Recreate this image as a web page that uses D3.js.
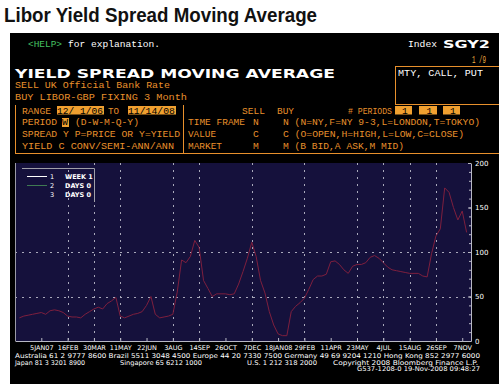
<!DOCTYPE html>
<html>
<head>
<meta charset="utf-8">
<script src="https://cdn.jsdelivr.net/npm/d3@7"></script>
<style>
  body { margin: 0; background: #fff; }
  svg { display: block; }
  .term { font-family: "Liberation Mono", "DejaVu Sans Mono", monospace; font-size: 9.6px; }
  .small { font-family: "DejaVu Sans", sans-serif; font-size: 6.5px; fill: #fff; }
</style>
</head>
<body>
<svg id="chart"></svg>
<script>
// weekly spread (bp), 3M GBP Libor fixing minus UK Bank Rate, 1 Dec 2006 .. 14 Nov 2008
const firstWeek = "2006-12-01";
const spread = [
  26, 28, 29, 30, 31, 32, 30, 34, 35, 34,
  32, 28, 27, 27, 26, 30, 33, 36, 38, 36,
  42, 45, 49, 28, 26, 28, 30, 31, 33, 40,
  50, 30, 26, 27, 28, 30, 55, 91, 88, 95,
  113, 105, 68, 59, 50, 53, 53, 53, 52, 53,
  64, 78, 93, 111, 95, 68, 54, 33, 18, 8,
  6, 6, 33, 39, 43, 48, 58, 69, 73, 73,
  75, 89, 90, 86, 80, 76, 84, 86, 86, 88,
  94, 96, 93, 88, 83, 80, 79, 78, 77, 76,
  76, 76, 73, 72, 98, 118, 126, 172, 167, 150,
  136, 146, 122
];
const tickDates = [
  "2007-01-05", "2007-02-16", "2007-03-30", "2007-05-11", "2007-06-22", "2007-08-03",
  "2007-09-14", "2007-10-26", "2007-12-07", "2008-01-18", "2008-02-29", "2008-04-11",
  "2008-05-23", "2008-07-04", "2008-08-15", "2008-09-26", "2008-11-07"
];
const tickLabels = [
  "5JAN07", "16FEB", "30MAR", "11MAY", "22JUN", "3AUG", "14SEP", "26OCT", "7DEC",
  "18JAN08", "29FEB", "11APR", "23MAY", "4JUL", "15AUG", "26SEP", "7NOV"
];
const gridDates = [
  "2007-02-16", "2007-03-30", "2007-05-11", "2007-08-03", "2007-09-14", "2007-12-07",
  "2008-02-29", "2008-05-23", "2008-07-04", "2008-08-15", "2008-09-26"
];
const yTicks = [0, 50, 100, 150, 200];
const yGrid = [50, 100];
const xDomain = ["2006-11-24", "2008-11-21"];
const legendItems = [
  { key: "1", label: "WEEK 1", color: "#ffffff" },
  { key: "2", label: "DAYS 0", color: "#3f7a52" },
  { key: "3", label: "DAYS 0", color: null }
];

const W = 499, H = 388;
const orange = "#e8902c", hi = "#f0a030";
const parse = d3.timeParse("%Y-%m-%d");
const svg = d3.select("#chart").attr("width", W).attr("height", H);

svg.append("text")
  .attr("x", 4).attr("y", 22)
  .attr("textLength", 313).attr("lengthAdjust", "spacingAndGlyphs")
  .style("font-family", "Liberation Sans, Arial, sans-serif")
  .style("font-weight", "bold").style("font-size", "21px").style("fill", "#111")
  .text("Libor Yield Spread Moving Average");

// terminal panel
svg.append("rect").attr("x", 10).attr("y", 33).attr("width", 489).attr("height", 351).attr("fill", "#000");

function term(x, y, str, color, opts) {
  opts = opts || {};
  const t = svg.append("text").attr("class", "term").attr("x", x).attr("y", y)
    .style("fill", color).text(str);
  if (opts.len) t.attr("textLength", opts.len).attr("lengthAdjust", "spacingAndGlyphs");
  if (opts.style) Object.entries(opts.style).forEach(([k, v]) => t.style(k, v));
  return t;
}
function box(x, y, w, h, color) {
  svg.append("rect").attr("x", x).attr("y", y).attr("width", w).attr("height", h).attr("fill", color);
}
function hline(x1, x2, y) {
  svg.append("line").attr("x1", x1).attr("x2", x2).attr("y1", y).attr("y2", y)
    .attr("stroke", orange).attr("stroke-width", 1);
}
function vline(x, y1, y2) {
  svg.append("line").attr("x1", x).attr("x2", x).attr("y1", y1).attr("y2", y2)
    .attr("stroke", orange).attr("stroke-width", 1);
}

term(28, 47, "<HELP>", "#45c060", { len: 34 });
term(68, 47, "for explanation.", "#fff", { len: 92 });
term(408, 47, "Index", "#fff", { len: 29 });
svg.append("text").attr("x", 443).attr("y", 47.5)
  .attr("textLength", 47).attr("lengthAdjust", "spacingAndGlyphs")
  .style("font-family", "DejaVu Sans, sans-serif").style("font-weight", "bold")
  .style("font-size", "11px").style("fill", "#fff").text("SGY2");
term(472, 63, "1 /9", "#f0b040", { len: 14, style: { "font-size": "10.5px" } });

svg.append("text").attr("x", 15).attr("y", 77.5)
  .attr("textLength", 320).attr("lengthAdjust", "spacingAndGlyphs")
  .style("font-family", "DejaVu Sans, sans-serif").style("font-weight", "bold")
  .style("font-size", "12.5px").style("fill", "#fff").text("YIELD SPREAD MOVING AVERAGE");

// MTY box
hline(395, 499, 66.5); vline(395.5, 66, 104); hline(395, 499, 104.5);
term(398, 76, "MTY, CALL, PUT", "#fff", { len: 85 });

term(15, 88, "SELL UK Official Bank Rate", orange, { len: 155 });
term(15, 100, "BUY  LIBOR-GBP FIXING 3 Month", orange, { len: 172 });

// main settings box
vline(15.5, 105, 153); vline(183.5, 105, 153); hline(15, 499, 153.5);

box(57, 106, 47, 8.5, hi); box(128, 106, 48, 8.5, hi); box(62, 118, 7, 9, hi);
term(22, 113.5, "RANGE", orange, { len: 29 });
term(57, 113.5, "12/ 1/06", "#000", { len: 46 });
term(108, 113.5, "TO", orange, { len: 11 });
term(128, 113.5, "11/14/08", "#000", { len: 47 });
term(22, 125, "PERIOD", orange, { len: 35 });
term(62, 125, "W", "#000", { len: 6 });
term(75, 125, "(D-W-M-Q-Y)", orange, { len: 64 });
term(22, 137, "SPREAD Y P=PRICE OR Y=YIELD", orange, { len: 158 });
term(22, 149, "YIELD  C CONV/SEMI-ANN/ANN", orange, { len: 152 });

term(242, 113.5, "SELL", orange, { len: 23 });
term(277, 113.5, "BUY", orange, { len: 17 });
term(348, 113.5, "# PERIODS", orange, { len: 44 });
[[395, 17], [419, 18], [443, 17]].forEach(([bx, bw]) => {
  box(bx, 106, bw, 8.5, hi);
  term(bx + bw / 2 - 1.5, 113.5, "1", "#000");
});
term(188, 125, "TIME FRAME", orange, { len: 57 });
term(253, 125, "N", orange);
term(283, 125, "N (N=NY,F=NY 9-3,L=LONDON,T=TOKYO)", orange, { len: 197 });
term(188, 137, "VALUE", orange, { len: 28 });
term(253, 137, "C", orange);
term(283, 137, "C (O=OPEN,H=HIGH,L=LOW,C=CLOSE)", orange, { len: 181 });
term(188, 149, "MARKET", orange, { len: 34 });
term(253, 149, "M", orange);
term(283, 149, "M (B BID,A ASK,M MID)", orange, { len: 121 });

// plot
const plot = { left: 15, right: 471, top: 163, bottom: 341 };
const x = d3.scaleTime().domain(xDomain.map(parse)).range([plot.left, plot.right]);
const y = d3.scaleLinear().domain([0, 200]).range([plot.bottom, plot.top]);

svg.append("rect").attr("x", plot.left).attr("y", plot.top)
  .attr("width", plot.right - plot.left).attr("height", plot.bottom - plot.top)
  .attr("fill", "#15113c");

const grid = svg.append("g").attr("stroke", "#a9a9bb").attr("stroke-width", 1);
grid.selectAll(".vg").data(gridDates.map(parse)).enter().append("line")
  .attr("x1", d => Math.round(x(d)) + 0.5).attr("x2", d => Math.round(x(d)) + 0.5)
  .attr("y1", plot.top).attr("y2", plot.bottom)
  .attr("stroke-dasharray", "2,5");
grid.selectAll(".hg").data(yGrid).enter().append("line")
  .attr("x1", plot.left).attr("x2", plot.right)
  .attr("y1", d => Math.round(y(d)) + 0.5).attr("y2", d => Math.round(y(d)) + 0.5)
  .attr("stroke-dasharray", "2,5");

// left border
svg.append("line").attr("x1", plot.left + 0.5).attr("x2", plot.left + 0.5)
  .attr("y1", plot.top).attr("y2", plot.bottom).attr("stroke", "#9a9aa6");

const weeks = spread.map((v, i) => ({ date: d3.timeDay.offset(parse(firstWeek), 7 * i), v }));
svg.append("path").datum(weeks)
  .attr("d", d3.line().x(d => x(d.date)).y(d => y(d.v)))
  .attr("fill", "none").attr("stroke", "#7e1f3e").attr("stroke-width", 1);

// axes
const xAxis = svg.append("g").attr("transform", `translate(0,${plot.bottom})`)
  .call(d3.axisBottom(x).tickValues(tickDates.map(parse))
    .tickFormat((d, i) => tickLabels[i]).tickSize(-3).tickSizeOuter(0).tickPadding(3));
xAxis.select(".domain").attr("stroke", "#b8b8c4");
xAxis.selectAll(".tick line").attr("stroke", "#b8b8c4");
xAxis.selectAll("text").attr("class", "small").attr("fill", "#fff")
  .style("font-size", "6.5px").attr("dy", "0.9em");

const yAxis = svg.append("g").attr("transform", `translate(${plot.right},0)`)
  .call(d3.axisRight(y).tickValues(yTicks).tickSize(-3).tickSizeOuter(0).tickPadding(4));
yAxis.select(".domain").attr("stroke", "#b8b8c4");
yAxis.selectAll(".tick line").attr("stroke", "#b8b8c4");
yAxis.selectAll("text").attr("class", "small").attr("fill", "#fff").style("font-size", "7px");

const yMinor = svg.append("g").attr("transform", `translate(${plot.right},0)`)
  .call(d3.axisRight(y).ticks(20).tickSize(-2).tickFormat(""));
yMinor.select(".domain").remove();
yMinor.selectAll(".tick line").attr("stroke", "#b8b8c4");

// legend
const lg = svg.append("g");
lg.append("path").attr("d", "M22,168.5H94.5V202").attr("fill", "none").attr("stroke", "#a0a0a8");
legendItems.forEach((it, i) => {
  const ly = 176 + i * 9;
  if (it.color) {
    lg.append("line").attr("x1", 27).attr("x2", 47).attr("y1", ly + 0.5).attr("y2", ly + 0.5)
      .attr("stroke", it.color).attr("stroke-width", 1);
  }
  lg.append("text").attr("class", "small").attr("x", 50).attr("y", ly + 2.5).text(it.key);
  lg.append("text").attr("class", "small").attr("x", 65).attr("y", ly + 2.5)
    .style("font-weight", "bold").text(it.label);
});

// footer
const foot = (xx, yy, str, len) => svg.append("text").attr("class", "small")
  .attr("x", xx).attr("y", yy).attr("textLength", len).attr("lengthAdjust", "spacingAndGlyphs").text(str);
foot(15, 358, "Australia 61 2 9777 8600 Brazil 5511 3048 4500 Europe 44 20 7330 7500 Germany 49 69 9204 1210 Hong Kong 852 2977 6000", 465);
foot(15, 364.5, "Japan 81 3 3201 8900", 70);
foot(120, 364.5, "Singapore 65 6212 1000", 82);
foot(247, 364.5, "U.S. 1 212 318 2000", 70);
foot(333, 364.5, "Copyright 2008 Bloomberg Finance L.P.", 145);
foot(357, 371, "G537-1208-0 19-Nov-2008 09:48:27", 123);
</script>
</body>
</html>
